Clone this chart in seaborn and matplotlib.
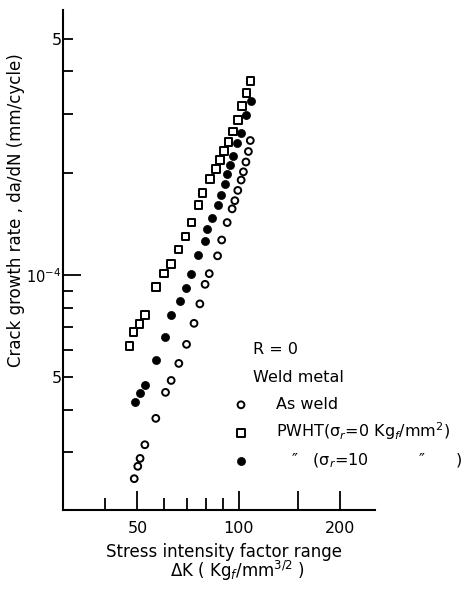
import pandas as pd
import seaborn as sns
import matplotlib.pyplot as plt
from matplotlib.ticker import FixedLocator, FuncFormatter

# As weld (open circles)
as_weld_dk = [48.9, 50.1, 50.9, 52.6, 56.7, 60.6, 63.0, 66.4, 70.0, 73.7, 76.7, 79.5,
              81.8, 86.6, 89.1, 92.5, 95.7, 97.5, 99.5, 101.8, 103.4, 105.2, 107.0, 108.4]
as_weld_rate = [2.50e-5, 2.72e-5, 2.87e-5, 3.15e-5, 3.77e-5, 4.50e-5, 4.88e-5, 5.48e-5,
                6.24e-5, 7.20e-5, 8.22e-5, 9.39e-5, 1.01e-4, 1.14e-4, 1.27e-4, 1.43e-4,
                1.57e-4, 1.66e-4, 1.78e-4, 1.91e-4, 2.02e-4, 2.16e-4, 2.32e-4, 2.50e-4]

# PWHT, sigma_r = 0 (open squares)
pwht0_dk = [47.3, 48.7, 50.7, 52.7, 56.8, 60.0, 62.9, 66.2, 69.5, 72.4, 75.9,
            78.2, 82.3, 85.7, 88.2, 90.4, 93.3, 96.1, 99.5, 102.5, 105.7, 108.7]
pwht0_rate = [6.18e-5, 6.78e-5, 7.16e-5, 7.63e-5, 9.22e-5, 1.01e-4, 1.08e-4, 1.19e-4,
              1.30e-4, 1.43e-4, 1.61e-4, 1.75e-4, 1.92e-4, 2.06e-4, 2.19e-4, 2.33e-4,
              2.47e-4, 2.66e-4, 2.88e-4, 3.16e-4, 3.45e-4, 3.75e-4]

# PWHT, sigma_r = 10 (filled circles)
pwht10_dk = [49.0, 50.9, 52.7, 56.8, 60.2, 63.1, 66.9, 69.7, 72.4, 75.9, 79.3, 80.8,
             83.1, 86.6, 88.9, 91.3, 92.5, 94.0, 96.4, 98.8, 101.5, 105.5, 108.7]
pwht10_rate = [4.22e-5, 4.47e-5, 4.73e-5, 5.60e-5, 6.54e-5, 7.61e-5, 8.40e-5, 9.13e-5,
               1.01e-4, 1.15e-4, 1.26e-4, 1.37e-4, 1.48e-4, 1.61e-4, 1.72e-4, 1.86e-4,
               1.99e-4, 2.12e-4, 2.25e-4, 2.45e-4, 2.64e-4, 2.97e-4, 3.28e-4]

labels = ["As weld",
          "PWHT(σ$_r$=0 Kg$_f$/mm$^2$)",
          "   ″   (σ$_r$=10          ″      )"]

x_major = [50, 100, 150, 200]
x_minor = [40, 60, 70, 80, 90]
y_major = [1e-4]
y_minor = [3e-5, 4e-5, 5e-5, 6e-5, 7e-5, 8e-5, 9e-5, 2e-4, 3e-4, 4e-4, 5e-4]

df = pd.concat([
    pd.DataFrame({"dK": as_weld_dk, "rate": as_weld_rate, "cond": labels[0]}),
    pd.DataFrame({"dK": pwht0_dk, "rate": pwht0_rate, "cond": labels[1]}),
    pd.DataFrame({"dK": pwht10_dk, "rate": pwht10_rate, "cond": labels[2]}),
])

sns.set_style("ticks")
plt.rcParams["font.family"] = ["DejaVu Sans"]
plt.rcParams.update({"text.color": "black", "axes.edgecolor": "black",
                     "xtick.color": "black", "ytick.color": "black",
                     "axes.labelcolor": "black"})

fig = plt.figure(figsize=(4.66, 5.90), dpi=100)
ax = fig.add_axes([63 / 466, 80 / 590, 312 / 466, 500 / 590])

styles = {
    labels[0]: dict(marker="o", s=24, facecolor="none", linewidth=1.4),
    labels[1]: dict(marker="s", s=30, facecolor="none", linewidth=1.4),
    labels[2]: dict(marker="o", s=34, facecolor="black", linewidth=0.5),
}
for cond, sub in df.groupby("cond", sort=False):
    sns.scatterplot(data=sub, x="dK", y="rate", color="black", edgecolor="black",
                    label=cond, ax=ax, **styles[cond])

ax.set_xscale("log")
ax.set_yscale("log")
ax.set_xlim(30, 255)
ax.set_ylim(2.02e-5, 6.08e-4)
ax.set_xlabel("")
ax.set_ylabel("")

for side in ["top", "right"]:
    ax.spines[side].set_visible(False)
for side in ["left", "bottom"]:
    ax.spines[side].set_linewidth(1.5)

ax.xaxis.set_major_locator(FixedLocator(x_major))
ax.xaxis.set_minor_locator(FixedLocator(x_minor))
ax.xaxis.set_major_formatter(FuncFormatter(lambda v, p: "" if v == 150 else f"{v:g}"))
ax.xaxis.set_minor_formatter(FuncFormatter(lambda v, p: ""))

ax.yaxis.set_major_locator(FixedLocator(y_major))
ax.yaxis.set_minor_locator(FixedLocator(y_minor))
ax.yaxis.set_major_formatter(FuncFormatter(lambda v, p: "$10^{-4}$"))
ax.yaxis.set_minor_formatter(
    FuncFormatter(lambda v, p: "5" if abs(v - 5e-5) < 1e-7 or abs(v - 5e-4) < 1e-6 else ""))

ax.tick_params(axis="x", which="major", direction="in", length=14, width=1.3, pad=8, labelsize=11.5)
ax.tick_params(axis="x", which="minor", direction="in", length=9, width=1.3, pad=8, labelsize=11.5)
ax.tick_params(axis="y", which="major", direction="in", length=13, width=1.3, pad=1, labelsize=10.5)
ax.tick_params(axis="y", which="minor", direction="in", length=7, width=1.3, pad=1, labelsize=11.5)

# legend block
fig.text(253 / 466, 1 - 350 / 590, "R = 0", fontsize=11.5, va="center", ha="left")
fig.text(253 / 466, 1 - 377 / 590, "Weld metal", fontsize=11.5, va="center", ha="left")
ax.legend(loc="upper left", bbox_to_anchor=(233 / 466, 1 - 397 / 590),
          bbox_transform=fig.transFigure, frameon=False, fontsize=11.5,
          handlelength=1.0, handletextpad=1.7, labelspacing=0.55,
          borderpad=0, borderaxespad=0)

fig.text(16 / 466, 1 - 210 / 590, "Crack growth rate , da/dN (mm/cycle)",
         rotation=90, fontsize=12, va="center", ha="center")
fig.text(224 / 466, 1 - 552 / 590, "Stress intensity factor range",
         fontsize=12, va="center", ha="center")
fig.text(237 / 466, 1 - 571 / 590, "ΔK ( Kg$_f$/mm$^{3/2}$ )",
         fontsize=12, va="center", ha="center")

fig.savefig("out.png", dpi=100)
